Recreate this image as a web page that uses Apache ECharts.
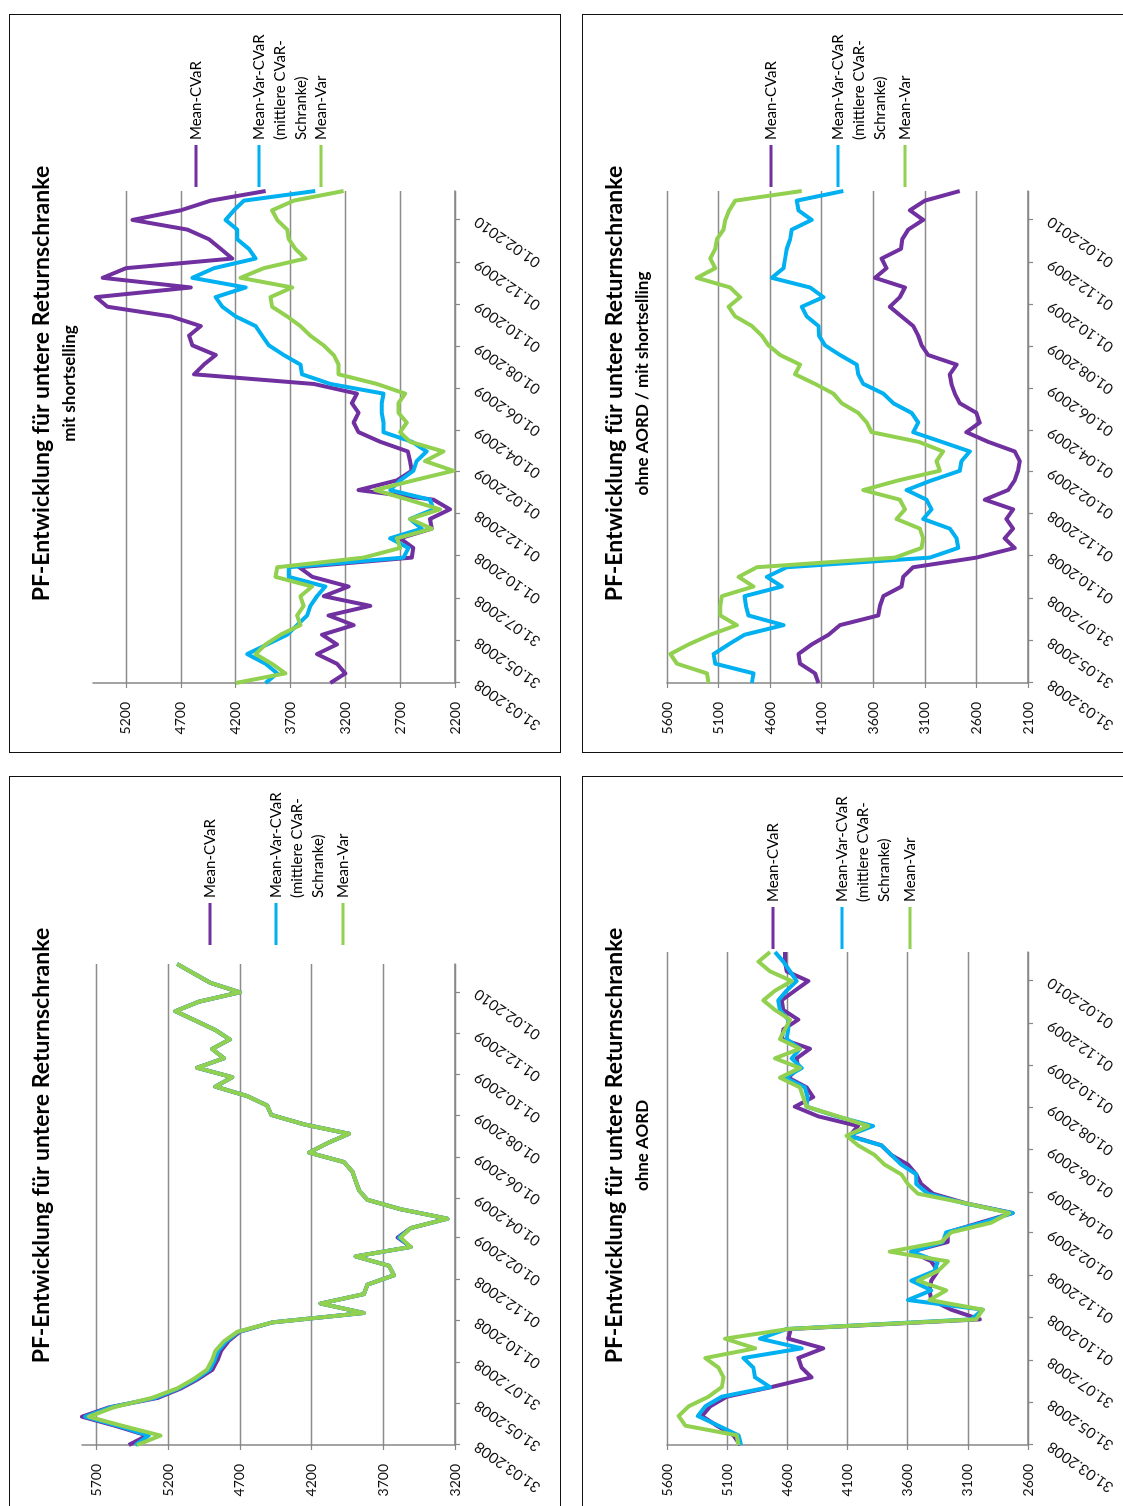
<!DOCTYPE html>
<html>
<head>
<meta charset="utf-8">
<script src="https://cdn.jsdelivr.net/npm/echarts@6/dist/echarts.min.js"></script>
<style>
  html, body { margin: 0; padding: 0; background: #fff; width: 1123px; height: 1506px; overflow: hidden; }
  .frame { position: absolute; border: 2px solid #111; box-sizing: border-box; width: 552px; height: 739px; }
  .chart { position: absolute; width: 737px; height: 550px; transform-origin: 0 0; transform: rotate(-90deg); }
</style>
</head>
<body>
<div class="frame" style="left:9px;top:14px"></div>
<div class="frame" style="left:582px;top:14px"></div>
<div class="frame" style="left:9px;top:776px"></div>
<div class="frame" style="left:582px;top:776px"></div>
<div id="tl" class="chart" style="left:10px;top:752px"></div>
<div id="tr" class="chart" style="left:583px;top:752px"></div>
<div id="bl" class="chart" style="left:10px;top:1514px"></div>
<div id="br" class="chart" style="left:583px;top:1514px"></div>
<script>
// Biweekly valuation dates (Mondays)
const dates = [
  '2008-03-31','2008-04-14','2008-04-28','2008-05-12','2008-05-26','2008-06-09','2008-06-23','2008-07-07',
  '2008-07-21','2008-08-04','2008-08-18','2008-09-01','2008-09-15','2008-09-29','2008-10-13','2008-10-27',
  '2008-11-10','2008-11-24','2008-12-08','2008-12-22','2009-01-05','2009-01-19','2009-02-02','2009-02-16',
  '2009-03-02','2009-03-16','2009-03-30','2009-04-13','2009-04-27','2009-05-11','2009-05-25','2009-06-08',
  '2009-06-22','2009-07-06','2009-07-20','2009-08-03','2009-08-17','2009-08-31','2009-09-14','2009-09-28',
  '2009-10-12','2009-10-26','2009-11-09','2009-11-23','2009-12-07','2009-12-21','2010-01-04','2010-01-18',
  '2010-02-01','2010-02-15','2010-03-01','2010-03-15'
];
const tickDates = ['2008-03-31','2008-05-31','2008-07-31','2008-10-01','2008-12-01','2009-02-01',
  '2009-04-01','2009-06-01','2009-08-01','2009-10-01','2009-12-01','2010-02-01'];
const tickLabels = ['31.03.2008','31.05.2008','31.07.2008','01.10.2008','01.12.2008','01.02.2009',
  '01.04.2009','01.06.2009','01.08.2009','01.10.2009','01.12.2009','01.02.2010'];

const seriesNames = ['Mean-CVaR', 'Mean-Var-CVaR (mittlere CVaR-Schranke)', 'Mean-Var'];
const legendLines = [['Mean-CVaR'], ['Mean-Var-CVaR', '(mittlere CVaR-', 'Schranke)'], ['Mean-Var']];
const seriesColors = ['#7030A0', '#00B0F0', '#92D050'];

const mainTitle = 'PF-Entwicklung für untere Returnschranke';
const subTitles = { tl: 'mit shortselling', tr: 'ohne AORD / mit shortselling', bl: '', br: 'ohne AORD' };

// mit shortselling
const tlMeanCVaR = [3336,3200,3276,3458,3276,3412,3124,3352,2973,3397,3170,3500,3620,2594,2580,2700,
  2412,2428,2246,2397,3079,2730,2594,2610,2630,2880,3079,3124,3079,3140,3094,3488,4579,4490,4382,4594,
  4624,4518,4791,5367,5473,4609,5412,5200,4230,4336,4443,4640,5140,4700,4427,3927];
const tlMeanVarCVaR = [3927,3821,3927,4094,3912,3730,3640,3549,3518,3458,3382,3715,3715,2670,2624,2791,
  2503,2609,2397,2428,2791,2700,2579,2549,2458,2590,2852,2852,2867,2867,2852,3337,3594,3609,3761,3897,
  3958,4018,4200,4321,4382,4109,4594,4397,4018,4079,4185,4185,4291,4215,4124,3473];
const tlMeanVar = [4200,3746,3870,4018,3927,3791,3609,3640,3579,3609,3503,3836,3821,3033,2700,2730,
  2412,2610,2337,2625,2927,2579,2215,2473,2306,2609,2700,2640,2715,2715,2655,2912,3261,3261,3306,3397,
  3518,3609,3730,3867,3882,3685,4155,3943,3564,3655,3715,3730,3821,3867,3670,3215];

// ohne AORD / mit shortselling
const trMeanCVaR = [4132,4165,4310,4326,4197,4035,3923,3552,3535,3503,3326,3310,3213,2600,2229,2326,
  2245,2310,2245,2519,2293,2229,2197,2180,2229,2487,2697,2568,2600,2761,2810,2842,2858,2793,3068,3132,
  3164,3213,3326,3439,3342,3294,3584,3471,3519,3332,3319,3261,3116,3245,3100,2761];
const trMeanVarCVaR = [4777,4761,5132,5148,5003,4848,4471,4810,4835,4848,4487,4632,4439,3052,2777,2793,
  2858,3116,3035,3084,3277,3035,2761,2745,2664,2938,3213,3164,3229,3406,3503,3697,3745,3761,3923,4068,
  4126,4132,4245,4293,4084,4213,4584,4471,4455,4439,4406,4390,4197,4326,4342,3890];
const trMeanVar = [5197,5213,5503,5568,5390,5181,4923,5084,5084,5068,4761,4906,4729,3390,3132,3116,
  3148,3374,3293,3342,3697,3358,2955,2987,2923,3160,3616,3664,3745,3906,3987,4164,4358,4310,4503,4616,
  4681,4777,4939,5003,4890,4987,5310,5132,5180,5132,5116,5052,5035,4997,4939,4293];

// ohne Zusatz
const blMeanCVaR = [5474,5347,5560,5800,5610,5270,5110,4990,4890,4855,4830,4780,4700,4474,3835,4137,
  3835,3811,3625,3660,3893,3509,3600,3509,3253,3579,3811,3869,3893,3916,3974,4218,4090,3939,4253,4481,
  4509,4649,4870,4753,4998,4811,4893,4770,4870,5009,5149,4986,4700,4905,5021,5137];
const blMeanVarCVaR = [5428,5335,5540,5777,5600,5290,5125,5005,4910,4875,4850,4795,4710,4474,3835,4137,
  3835,3811,3625,3660,3893,3509,3590,3509,3253,3579,3811,3869,3893,3916,3974,4218,4090,3939,4253,4481,
  4509,4649,4870,4753,4998,4811,4893,4770,4870,5009,5149,4986,4700,4905,5021,5137];
const blMeanVar = [5416,5253,5509,5753,5579,5312,5137,5021,4928,4893,4870,4811,4718,4474,3835,4137,
  3835,3811,3625,3660,3893,3509,3579,3509,3253,3579,3811,3869,3893,3916,3974,4218,4090,3939,4253,4481,
  4509,4649,4870,4753,4998,4811,4893,4770,4870,5009,5149,4986,4700,4905,5021,5137];

// ohne AORD
const brMeanCVaR = [4992,5048,5186,5310,5241,5103,4730,4399,4481,4509,4302,4592,4570,3000,3238,3404,
  3418,3404,3349,3404,3570,3266,3266,3000,2728,3114,3390,3487,3528,3598,3736,3819,4081,4012,4343,4537,
  4385,4440,4592,4509,4523,4412,4647,4633,4509,4633,4647,4537,4426,4606,4619,4619];
const brMeanVarCVaR = [4984,5006,5172,5343,5282,5144,4744,4868,4882,4965,4481,4827,4606,3073,2976,3598,
  3404,3570,3377,3349,3570,3308,3280,2976,2728,3128,3432,3528,3528,3653,3736,3819,4095,3888,4191,4440,
  4432,4454,4619,4481,4564,4495,4606,4592,4592,4661,4675,4606,4523,4578,4633,4702];
const brMeanVar = [5006,5020,5448,5503,5420,5255,5144,5130,5172,5282,4868,5117,4592,3031,2976,3418,
  3280,3515,3349,3266,3749,3321,3238,2905,2755,3114,3515,3598,3653,3791,3874,4012,4108,3929,4178,4440,
  4468,4495,4661,4495,4702,4495,4661,4619,4578,4702,4799,4702,4564,4744,4840,4744];

const panelSeries = {
  tl: [tlMeanCVaR, tlMeanVarCVaR, tlMeanVar],
  tr: [trMeanCVaR, trMeanVarCVaR, trMeanVar],
  bl: [blMeanCVaR, blMeanVarCVaR, blMeanVar],
  br: [brMeanCVaR, brMeanVarCVaR, brMeanVar]
};
const panelRanges = {
  tl: [2200, 5500], tr: [2100, 5600], bl: [3200, 5800], br: [2600, 5600]
};

// layout of each rotated chart (chart coordinates before rotation)
const layout = {
  tl: { grid: { left: 69, right: 176, top: 83, bottom: 105 }, legendX: 565, legendY: [186, 249, 311] },
  tr: { grid: { left: 69, right: 176, top: 84, bottom: 105 }, legendX: 565, legendY: [188, 255, 322] },
  bl: { grid: { left: 69, right: 187, top: 72, bottom: 105 }, legendX: 569, legendY: [200, 266, 333] },
  br: { grid: { left: 69, right: 175, top: 84, bottom: 105 }, legendX: 565, legendY: [190, 259, 327] }
};

const FONT = 'Lato, "Open Sans", sans-serif';
const AXIS_GRAY = '#868686';

function ts(s) {
  const p = s.split('-').map(Number);
  return Date.UTC(p[0], p[1] - 1, p[2]);
}
const dateTs = dates.map(ts);
const tickTs = tickDates.map(ts);

function buildOption(key) {
  const lay = layout[key];
  const range = panelRanges[key];
  const topIsGridline = (range[1] - range[0]) % 500 === 0;
  const titles = [{
    text: mainTitle, left: 'center', top: 18, padding: 0,
    textStyle: { fontFamily: FONT, fontSize: 23, fontWeight: 'bold', color: '#000', lineHeight: 28 }
  }];
  if (subTitles[key]) {
    titles.push({
      text: subTitles[key], left: 'center', top: 50, padding: 0,
      textStyle: { fontFamily: FONT, fontSize: 17, fontWeight: 'bold', color: '#000', lineHeight: 20 }
    });
  }
  const graphics = [];
  legendLines.forEach((lines, k) => {
    const y = lay.legendY[k];
    graphics.push({
      type: 'line', shape: { x1: lay.legendX, y1: y, x2: lay.legendX + 42, y2: y },
      style: { stroke: seriesColors[k], lineWidth: 3 }
    });
    graphics.push({
      type: 'text', x: lay.legendX + 47, y: y - 10.5,
      style: { text: lines.join('\n'), fill: '#000', fontFamily: FONT, fontSize: 15, lineHeight: 21, verticalAlign: 'top' }
    });
  });
  return {
    animation: false,
    backgroundColor: '#fff',
    title: titles,
    graphic: graphics,
    grid: lay.grid,
    xAxis: {
      type: 'value', min: dateTs[0], max: dateTs[dateTs.length - 1], scale: true,
      axisLine: { show: true, onZero: false, lineStyle: { color: AXIS_GRAY, width: 1.5 } },
      axisTick: { show: true, customValues: tickTs, length: 5, lineStyle: { color: AXIS_GRAY, width: 1.2 } },
      axisLabel: {
        customValues: tickTs, rotate: 55, margin: 21, hideOverlap: false,
        fontFamily: FONT, fontSize: 15, color: '#111',
        formatter: v => { const i = tickTs.indexOf(v); return i >= 0 ? tickLabels[i] : ''; }
      },
      splitLine: { show: false }
    },
    yAxis: {
      type: 'value', min: range[0], max: range[1], interval: 500,
      axisLine: { show: true, lineStyle: { color: AXIS_GRAY, width: 1.5 } },
      axisTick: { show: true, length: 5, lineStyle: { color: AXIS_GRAY, width: 1.2 } },
      axisLabel: {
        fontFamily: FONT, fontSize: 14, color: '#111', margin: 19, showMaxLabel: topIsGridline,
        formatter: v => String(v)
      },
      splitLine: { show: true, showMaxLine: topIsGridline, lineStyle: { color: '#8c8c8c', width: 1.3 } }
    },
    series: panelSeries[key].map((vals, k) => ({
      name: seriesNames[k], type: 'line', showSymbol: false, symbol: 'none',
      lineStyle: { color: seriesColors[k], width: 4, join: 'round' },
      itemStyle: { color: seriesColors[k] },
      data: vals.map((v, i) => [dateTs[i], v])
    }))
  };
}

['tl', 'tr', 'bl', 'br'].forEach(key => {
  const chart = echarts.init(document.getElementById(key), null, { renderer: 'canvas' });
  chart.setOption(buildOption(key));
});
</script>
</body>
</html>
